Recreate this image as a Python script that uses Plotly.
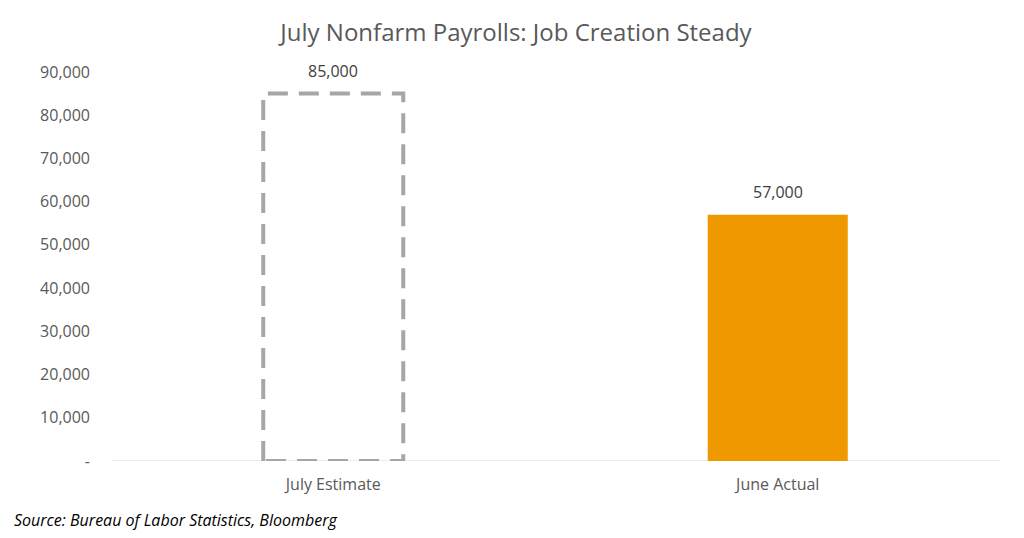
import plotly.graph_objects as go

categories = ["July Estimate", "June Actual"]
values = [85000, 57000]
y_ticks = [0, 10000, 20000, 30000, 40000, 50000, 60000, 70000, 80000, 90000]
y_tick_labels = ["-"] + [f"{v:,}" for v in y_ticks[1:]]

FONT = "Open Sans, Arial, sans-serif"
BAR_W = 0.315
x_pos = list(range(len(categories)))

fig = go.Figure()

# June actual: solid orange bar
fig.add_trace(
    go.Bar(
        x=[x_pos[1]],
        y=[values[1]],
        width=BAR_W,
        marker=dict(color="#F09800", line=dict(width=0)),
        hoverinfo="skip",
        showlegend=False,
    )
)

# July estimate: dashed outline only
x0, x1 = x_pos[0] - BAR_W / 2, x_pos[0] + BAR_W / 2
fig.add_trace(
    go.Scatter(
        x=[x0, x0, x1, x1, x0],
        y=[0, values[0], values[0], 0, 0],
        mode="lines",
        line=dict(color="#A6A6A6", width=4, dash="20px,11px"),
        hoverinfo="skip",
        showlegend=False,
    )
)

# value labels above each bar
for xp, v in zip(x_pos, values):
    fig.add_annotation(
        x=xp,
        y=v,
        text=f"{v:,}",
        showarrow=False,
        yanchor="bottom",
        yshift=10,
        font=dict(size=16, color="#404040", family=FONT),
    )

fig.add_annotation(
    text="Source: Bureau of Labor Statistics, Bloomberg",
    xref="paper",
    yref="paper",
    x=-0.111,
    y=-0.152,
    xanchor="left",
    yanchor="middle",
    showarrow=False,
    font=dict(size=16, color="#000000", family=FONT, style="italic"),
)

fig.update_layout(
    title=dict(
        text="July Nonfarm Payrolls: Job Creation Steady",
        x=0.5,
        xanchor="center",
        y=0.953,
        yanchor="middle",
        font=dict(size=24, color="#595959", family=FONT),
    ),
    xaxis=dict(
        tickvals=x_pos,
        ticktext=categories,
        range=[-0.5, 1.5],
        showgrid=False,
        zeroline=False,
        showline=False,
        tickfont=dict(size=16, color="#595959", family=FONT),
        ticks="",
        ticklabelstandoff=12,
    ),
    yaxis=dict(
        range=[0, 90000],
        tickvals=y_ticks,
        ticktext=y_tick_labels,
        showgrid=False,
        zeroline=False,
        showline=False,
        tickfont=dict(size=16, color="#595959", family=FONT),
        ticks="",
        ticklabelstandoff=20,
    ),
    shapes=[
        dict(
            type="line",
            xref="paper",
            yref="y",
            x0=0,
            x1=1,
            y0=0,
            y1=0,
            line=dict(color="#D9D9D9", width=1),
            layer="below",
        )
    ],
    plot_bgcolor="#FFFFFF",
    paper_bgcolor="#FFFFFF",
    margin=dict(l=103, r=24, t=64, b=77),
    width=1016,
    height=530,
)

fig.write_html("out.html")
